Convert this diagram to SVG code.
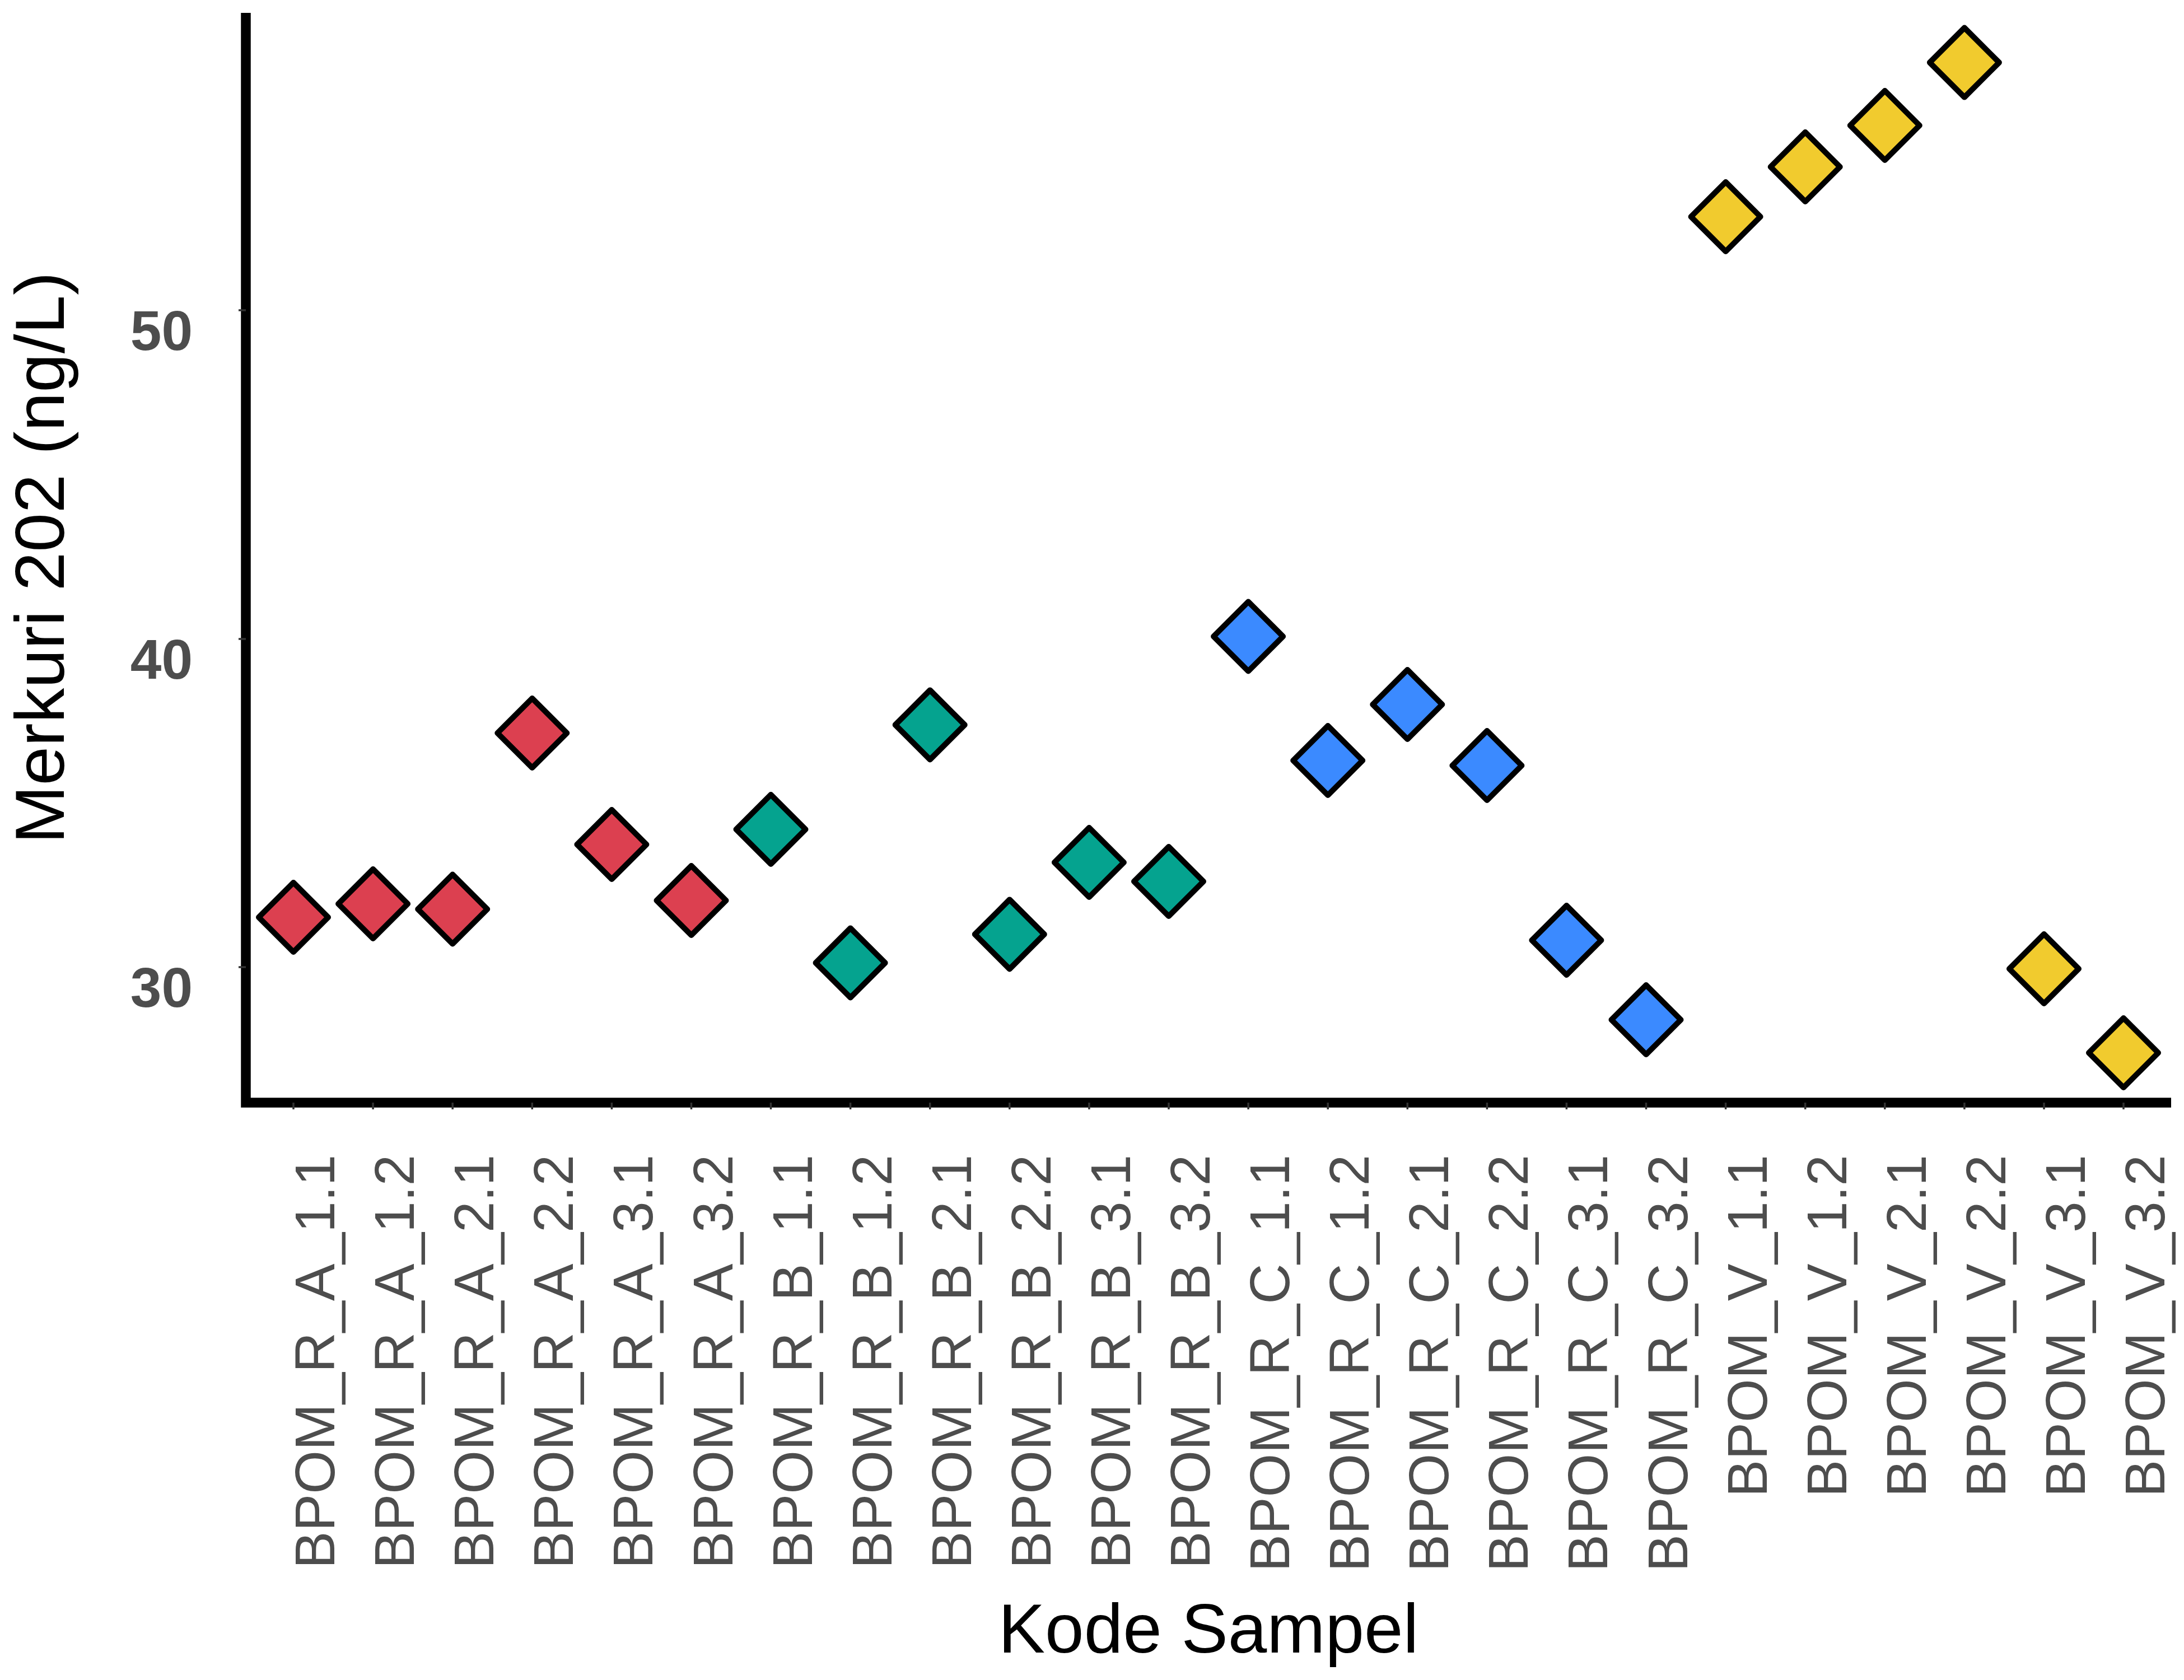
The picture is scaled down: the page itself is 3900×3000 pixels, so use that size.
<svg xmlns="http://www.w3.org/2000/svg" xmlns:xlink="http://www.w3.org/1999/xlink" width="3900" height="3000" viewBox="0 0 3900 3000">
<style>
.axis{fill:none;stroke:#000;stroke-width:17.5;stroke-linejoin:miter;stroke-linecap:butt}
.tick{stroke:#333;stroke-width:3.5}
.ylab{font-family:"Liberation Sans",Arial,sans-serif;font-weight:bold;font-size:100px;fill:#4D4D4D;text-anchor:end}
.xlab{font-family:"Liberation Sans",Arial,sans-serif;font-size:100px;fill:#4D4D4D;text-anchor:end}
.title{font-family:"Liberation Sans",Arial,sans-serif;font-size:125px;fill:#000;text-anchor:middle}
.pt{stroke:#000;stroke-width:10;stroke-linejoin:round}
.ra{fill:#DC4050}.rb{fill:#05A38F}.rc{fill:#3B8AFF}.v{fill:#F1CB2E}
</style>
<defs>
<path id="dm" d="M0,-62 L62,0 L0,62 L-62,0Z"/>
</defs>
<rect width="3900" height="3000" fill="#fff"/>
<g id="axes">
<path class="axis" d="M439,23 V1969 H3877"/>
<g id="yticks">
<line class="tick" x1="426" y1="554" x2="439" y2="554"/>
<line class="tick" x1="426" y1="1141" x2="439" y2="1141"/>
<line class="tick" x1="426" y1="1727" x2="439" y2="1727"/>
</g>
<g id="xticks">
<line class="tick" x1="524" y1="1969" x2="524" y2="1981"/>
<line class="tick" x1="666.1" y1="1969" x2="666.1" y2="1981"/>
<line class="tick" x1="808.2" y1="1969" x2="808.2" y2="1981"/>
<line class="tick" x1="950.3" y1="1969" x2="950.3" y2="1981"/>
<line class="tick" x1="1092.4" y1="1969" x2="1092.4" y2="1981"/>
<line class="tick" x1="1234.5" y1="1969" x2="1234.5" y2="1981"/>
<line class="tick" x1="1376.5" y1="1969" x2="1376.5" y2="1981"/>
<line class="tick" x1="1518.6" y1="1969" x2="1518.6" y2="1981"/>
<line class="tick" x1="1660.7" y1="1969" x2="1660.7" y2="1981"/>
<line class="tick" x1="1802.8" y1="1969" x2="1802.8" y2="1981"/>
<line class="tick" x1="1944.9" y1="1969" x2="1944.9" y2="1981"/>
<line class="tick" x1="2087" y1="1969" x2="2087" y2="1981"/>
<line class="tick" x1="2229.1" y1="1969" x2="2229.1" y2="1981"/>
<line class="tick" x1="2371.2" y1="1969" x2="2371.2" y2="1981"/>
<line class="tick" x1="2513.3" y1="1969" x2="2513.3" y2="1981"/>
<line class="tick" x1="2655.4" y1="1969" x2="2655.4" y2="1981"/>
<line class="tick" x1="2797.4" y1="1969" x2="2797.4" y2="1981"/>
<line class="tick" x1="2939.5" y1="1969" x2="2939.5" y2="1981"/>
<line class="tick" x1="3081.6" y1="1969" x2="3081.6" y2="1981"/>
<line class="tick" x1="3223.7" y1="1969" x2="3223.7" y2="1981"/>
<line class="tick" x1="3365.8" y1="1969" x2="3365.8" y2="1981"/>
<line class="tick" x1="3507.9" y1="1969" x2="3507.9" y2="1981"/>
<line class="tick" x1="3650" y1="1969" x2="3650" y2="1981"/>
<line class="tick" x1="3792" y1="1969" x2="3792" y2="1981"/>
</g>
<g id="ylabels">
<text class="ylab" x="344" y="625">50</text>
<text class="ylab" x="344" y="1212">40</text>
<text class="ylab" x="344" y="1798">30</text>
</g>
<g id="xlabels">
<text class="xlab" transform="translate(597,2062) rotate(-90)">BPOM_R_A_1.1</text>
<text class="xlab" transform="translate(739.1,2062) rotate(-90)">BPOM_R_A_1.2</text>
<text class="xlab" transform="translate(881.2,2062) rotate(-90)">BPOM_R_A_2.1</text>
<text class="xlab" transform="translate(1023.3,2062) rotate(-90)">BPOM_R_A_2.2</text>
<text class="xlab" transform="translate(1165.4,2062) rotate(-90)">BPOM_R_A_3.1</text>
<text class="xlab" transform="translate(1307.5,2062) rotate(-90)">BPOM_R_A_3.2</text>
<text class="xlab" transform="translate(1449.5,2062) rotate(-90)">BPOM_R_B_1.1</text>
<text class="xlab" transform="translate(1591.6,2062) rotate(-90)">BPOM_R_B_1.2</text>
<text class="xlab" transform="translate(1733.7,2062) rotate(-90)">BPOM_R_B_2.1</text>
<text class="xlab" transform="translate(1875.8,2062) rotate(-90)">BPOM_R_B_2.2</text>
<text class="xlab" transform="translate(2017.9,2062) rotate(-90)">BPOM_R_B_3.1</text>
<text class="xlab" transform="translate(2160,2062) rotate(-90)">BPOM_R_B_3.2</text>
<text class="xlab" transform="translate(2302.1,2062) rotate(-90)">BPOM_R_C_1.1</text>
<text class="xlab" transform="translate(2444.2,2062) rotate(-90)">BPOM_R_C_1.2</text>
<text class="xlab" transform="translate(2586.3,2062) rotate(-90)">BPOM_R_C_2.1</text>
<text class="xlab" transform="translate(2728.4,2062) rotate(-90)">BPOM_R_C_2.2</text>
<text class="xlab" transform="translate(2870.4,2062) rotate(-90)">BPOM_R_C_3.1</text>
<text class="xlab" transform="translate(3012.5,2062) rotate(-90)">BPOM_R_C_3.2</text>
<text class="xlab" transform="translate(3154.6,2062) rotate(-90)">BPOM_V_1.1</text>
<text class="xlab" transform="translate(3296.7,2062) rotate(-90)">BPOM_V_1.2</text>
<text class="xlab" transform="translate(3438.8,2062) rotate(-90)">BPOM_V_2.1</text>
<text class="xlab" transform="translate(3580.9,2062) rotate(-90)">BPOM_V_2.2</text>
<text class="xlab" transform="translate(3723,2062) rotate(-90)">BPOM_V_3.1</text>
<text class="xlab" transform="translate(3865,2062) rotate(-90)">BPOM_V_3.2</text>
</g>
<text id="xtitle" class="title" x="2158" y="2951">Kode Sampel</text>
<text id="ytitle" class="title" transform="translate(114,996) rotate(-90)">Merkuri 202 (ng/L)</text>
</g>
<g id="connectors"></g>
<g id="points">
<g id="BPOM_R_A_1.1"><use xlink:href="#dm" class="pt ra" x="524" y="1638"/></g>
<g id="BPOM_R_A_1.2"><use xlink:href="#dm" class="pt ra" x="666.1" y="1614"/></g>
<g id="BPOM_R_A_2.1"><use xlink:href="#dm" class="pt ra" x="808.2" y="1623.5"/></g>
<g id="BPOM_R_A_2.2"><use xlink:href="#dm" class="pt ra" x="950.3" y="1309"/></g>
<g id="BPOM_R_A_3.1"><use xlink:href="#dm" class="pt ra" x="1092.4" y="1508"/></g>
<g id="BPOM_R_A_3.2"><use xlink:href="#dm" class="pt ra" x="1234.5" y="1608"/></g>
<g id="BPOM_R_B_1.1"><use xlink:href="#dm" class="pt rb" x="1376.5" y="1481"/></g>
<g id="BPOM_R_B_1.2"><use xlink:href="#dm" class="pt rb" x="1518.6" y="1719.4"/></g>
<g id="BPOM_R_B_2.1"><use xlink:href="#dm" class="pt rb" x="1660.7" y="1294.4"/></g>
<g id="BPOM_R_B_2.2"><use xlink:href="#dm" class="pt rb" x="1802.8" y="1668.4"/></g>
<g id="BPOM_R_B_3.1"><use xlink:href="#dm" class="pt rb" x="1944.9" y="1540"/></g>
<g id="BPOM_R_B_3.2"><use xlink:href="#dm" class="pt rb" x="2087" y="1574"/></g>
<g id="BPOM_R_C_1.1"><use xlink:href="#dm" class="pt rc" x="2229.1" y="1136.5"/></g>
<g id="BPOM_R_C_1.2"><use xlink:href="#dm" class="pt rc" x="2371.2" y="1358"/></g>
<g id="BPOM_R_C_2.1"><use xlink:href="#dm" class="pt rc" x="2513.3" y="1258"/></g>
<g id="BPOM_R_C_2.2"><use xlink:href="#dm" class="pt rc" x="2655.4" y="1367"/></g>
<g id="BPOM_R_C_3.1"><use xlink:href="#dm" class="pt rc" x="2797.4" y="1679"/></g>
<g id="BPOM_R_C_3.2"><use xlink:href="#dm" class="pt rc" x="2939.5" y="1821"/></g>
<g id="BPOM_V_1.1"><use xlink:href="#dm" class="pt v" x="3081.6" y="387"/></g>
<g id="BPOM_V_1.2"><use xlink:href="#dm" class="pt v" x="3223.7" y="298"/></g>
<g id="BPOM_V_2.1"><use xlink:href="#dm" class="pt v" x="3365.8" y="224"/></g>
<g id="BPOM_V_2.2"><use xlink:href="#dm" class="pt v" x="3507.9" y="111.6"/></g>
<g id="BPOM_V_3.1"><use xlink:href="#dm" class="pt v" x="3650" y="1730"/></g>
<g id="BPOM_V_3.2"><use xlink:href="#dm" class="pt v" x="3792" y="1880"/></g>
</g>
</svg>
